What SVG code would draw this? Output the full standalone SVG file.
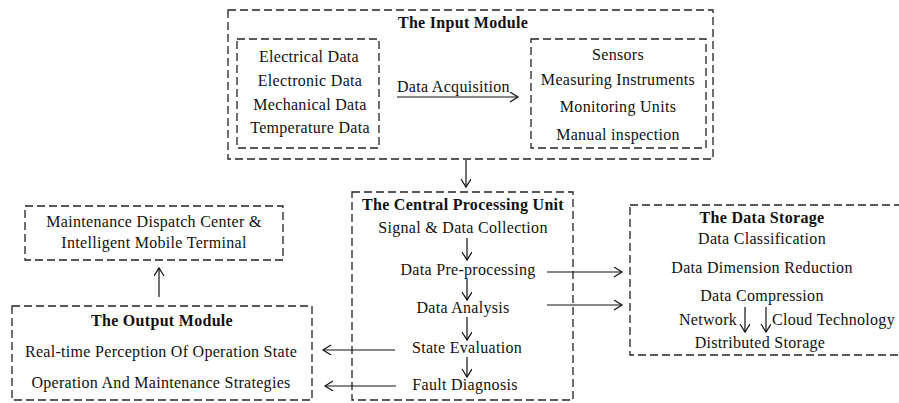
<svg xmlns="http://www.w3.org/2000/svg" width="899" height="403" viewBox="0 0 899 403" font-family="'Liberation Serif', 'Times New Roman', 'DejaVu Serif', serif">
<style>
.box{fill:none;stroke:#222;stroke-width:1.3;stroke-dasharray:8 4}
text{font-family:'Liberation Serif','Times New Roman','DejaVu Serif',serif;font-size:16px;fill:#111;letter-spacing:0.3px}
.t{font-weight:bold}
.m{text-anchor:middle}
.c{fill:none;stroke:#111;stroke-width:1.2}
</style>
<defs>
<marker id="ah" markerUnits="userSpaceOnUse" markerWidth="12" markerHeight="12" refX="9" refY="5" orient="auto">
<path d="M1,0 L9,5 L1,10" fill="none" stroke="#111" stroke-width="1.2"/>
</marker>
</defs>
<rect width="899" height="403" fill="#fff"/>
<g id="input-module">
<rect class="box" x="228" y="10" width="485" height="149"/>
<text class="t m" x="463" y="28">The Input Module</text>
</g>
<g id="data-types">
<rect class="box" x="237" y="39" width="142" height="109"/>
<text class="m" x="309" y="62">Electrical Data</text>
<text class="m" x="310" y="86">Electronic Data</text>
<text class="m" x="310" y="110">Mechanical Data</text>
<text class="m" x="310" y="133">Temperature Data</text>
</g>
<g id="acquisition-devices">
<rect class="box" x="531" y="39" width="175" height="109"/>
<text class="m" x="618" y="60">Sensors</text>
<text class="m" x="618" y="85">Measuring Instruments</text>
<text class="m" x="618" y="112">Monitoring Units</text>
<text class="m" x="618" y="140">Manual inspection</text>
</g>
<g id="cpu">
<rect class="box" x="352" y="192" width="221" height="208"/>
<text class="t m" x="463" y="210">The Central Processing Unit</text>
<text class="m" x="463" y="233">Signal &amp; Data Collection</text>
<text class="m" x="468" y="275">Data Pre-processing</text>
<text class="m" x="463" y="313">Data Analysis</text>
<text class="m" x="467" y="353">State Evaluation</text>
<text class="m" x="465" y="390">Fault Diagnosis</text>
</g>
<g id="data-storage">
<rect class="box" x="630" y="205" width="275" height="150"/>
<text class="t m" x="762" y="223">The Data Storage</text>
<text class="m" x="762" y="244">Data Classification</text>
<text class="m" x="762" y="273">Data Dimension Reduction</text>
<text class="m" x="762" y="301">Data Compression</text>
<text x="679" y="325">Network</text>
<text x="772" y="325">Cloud Technology</text>
<text class="m" x="760" y="348">Distributed Storage</text>
</g>
<g id="maintenance-center">
<rect class="box" x="25" y="206" width="258" height="54"/>
<text class="m" x="154" y="227">Maintenance Dispatch Center &amp;</text>
<text class="m" x="154" y="248">Intelligent Mobile Terminal</text>
</g>
<g id="output-module">
<rect class="box" x="12" y="306" width="300" height="94"/>
<text class="t m" x="162" y="326">The Output Module</text>
<text class="m" x="161" y="357">Real-time Perception Of Operation State</text>
<text class="m" x="161" y="388">Operation And Maintenance Strategies</text>
</g>
<g id="connectors">
<text x="397" y="92">Data Acquisition</text>
<line class="c" x1="397" y1="97" x2="518" y2="97" marker-end="url(#ah)"/>
<line class="c" x1="466" y1="160" x2="466" y2="187" marker-end="url(#ah)"/>
<line class="c" x1="467" y1="238" x2="467" y2="260" marker-end="url(#ah)"/>
<line class="c" x1="467" y1="279" x2="467" y2="300" marker-end="url(#ah)"/>
<line class="c" x1="467" y1="317" x2="467" y2="340" marker-end="url(#ah)"/>
<line class="c" x1="467" y1="357" x2="467" y2="377" marker-end="url(#ah)"/>
<line class="c" x1="547" y1="272" x2="622" y2="272" marker-end="url(#ah)"/>
<line class="c" x1="547" y1="305" x2="622" y2="305" marker-end="url(#ah)"/>
<line class="c" x1="395" y1="350" x2="323" y2="350" marker-end="url(#ah)"/>
<line class="c" x1="396" y1="386" x2="325" y2="386" marker-end="url(#ah)"/>
<line class="c" x1="159" y1="297" x2="159" y2="268" marker-end="url(#ah)"/>
<line class="c" x1="745" y1="307" x2="745" y2="332" marker-end="url(#ah)"/>
<line class="c" x1="766" y1="307" x2="766" y2="332" marker-end="url(#ah)"/>
</g>
</svg>
